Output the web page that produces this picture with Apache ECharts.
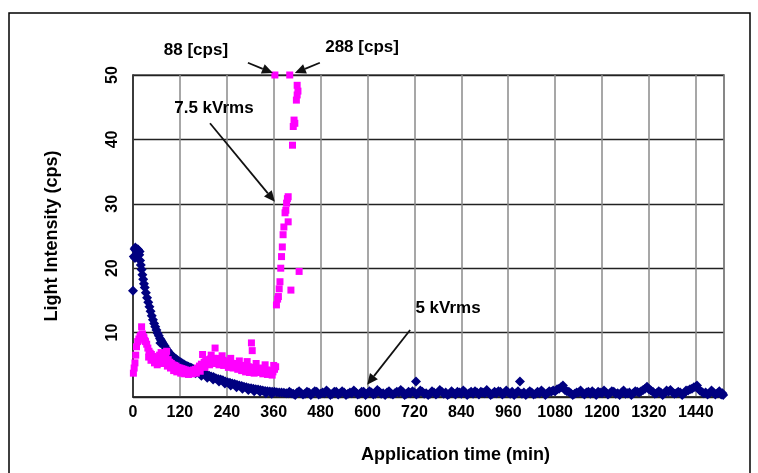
<!DOCTYPE html>
<html>
<head>
<meta charset="utf-8">
<script src="https://cdn.jsdelivr.net/npm/echarts@6/dist/echarts.min.js"></script>
<style>
  html, body { margin: 0; padding: 0; background: #fff; }
  #chart { width: 758px; height: 473px; }
</style>
</head>
<body>
<div id="chart"></div>
<script>
// tick labels
const xTicks = [0, 120, 240, 360, 480, 600, 720, 840, 960, 1080, 1200, 1320, 1440];
const yTicks = [10, 20, 30, 40, 50];

// 5 kVrms  [time (min), light intensity (cps)]
const blue5kV = [
  [0,16.5],[2,21.8],[4,23.0],[6,23.2],[8,22.7],[10,23.0],[12,22.4],[14,22.0],[16,22.1],[18,21.2],
  [5,21.6],[9,21.9],[13,22.9],[17,22.6],[20,20.5],[22,19.8],[24,19.0],[26,18.3],[28,17.6],[30,17.0],
  [33,16.2],[36,15.4],[39,14.7],[42,14.0],[45,13.3],[48,12.6],[51,12.0],[54,11.4],[57,10.9],[60,10.4],
  [63,9.9],[66,9.5],[69,9.1],[72,8.8],[75,8.5],[78,8.2],[81,7.9],[84,7.6],[87,7.3],[90,7.1],
  [94,6.8],[98,6.5],[102,6.3],[106,6.1],[110,5.9],[114,5.7],[118,5.5],[122,5.4],[126,5.2],[130,5.1],
  [134,4.9],[138,4.8],[142,4.7],[146,4.6],[150,4.5],[155,4.3],[160,4.2],[165,4.0],[170,3.9],[175,3.8],
  [180,3.7],[185,3.6],[190,3.4],[195,3.3],[200,3.2],[206,3.1],[212,2.9],[218,2.8],[224,2.7],[230,2.6],
  [236,2.4],[242,2.3],[248,2.2],[254,2.1],[260,2.0],[266,1.9],[272,1.8],[278,1.7],[284,1.6],[290,1.5],
  [296,1.4],[302,1.35],[308,1.3],[314,1.2],[320,1.15],[326,1.1],[332,1.0],[338,0.95],[344,0.9],[350,0.85],
  [356,0.8],[362,0.8],[368,0.75],[374,0.7],[380,0.7],[386,0.65],[392,0.6],[398,0.6],
  [70,8.4],[85,6.9],[100,5.9],[115,5.1],[130,4.5],[145,4.1],[160,3.7],[175,3.3],[190,3.0],[205,2.7],
  [220,2.4],[235,2.1],[250,1.8],[265,1.5],[280,1.3],[295,1.1],[310,0.9],[325,0.8],[340,0.6],[355,0.5],
  [405,0.6],[415,0.3],[425,0.9],[435,0.4],[445,0.8],[455,0.3],[465,0.9],[475,0.4],[485,0.7],[495,1.0],
  [505,0.3],[515,0.8],[525,0.4],[535,0.9],[545,0.3],[555,0.7],[565,1.0],[575,0.4],[585,0.8],[595,0.3],
  [605,0.9],[615,0.4],[625,1.1],[635,0.5],[645,0.3],[655,0.9],[665,0.4],[675,0.8],[685,1.1],[695,0.3],
  [705,0.8],[715,0.9],[724,2.4],[725,0.4],[735,1.0],[745,0.5],[755,0.3],[765,0.9],[775,0.4],[785,1.1],
  [795,0.5],[805,0.3],[815,0.9],[825,0.4],[835,0.7],[845,1.0],[855,0.3],[865,0.8],[875,0.9],[885,0.4],
  [895,0.7],[905,1.1],[915,0.3],[925,0.8],[935,0.9],[945,0.4],[955,1.0],[965,0.5],[975,0.3],[985,0.9],
  [990,2.4],[995,0.5],[1005,0.3],[1015,0.9],[1025,0.4],[1035,0.8],[1045,1.0],[1055,0.3],[1065,0.9],[1075,1.0],
  [1085,1.2],[1095,1.5],[1100,1.8],[1105,1.1],[1115,0.8],[1125,0.3],[1135,0.7],[1145,1.0],[1155,0.4],[1165,0.8],
  [1175,0.9],[1185,0.3],[1195,0.7],[1205,1.0],[1215,0.4],[1225,0.9],[1235,0.5],[1245,0.3],[1255,1.0],[1265,0.6],
  [1275,0.3],[1285,0.9],[1295,0.7],[1305,1.1],[1315,1.6],[1325,1.0],[1335,0.5],[1345,0.9],[1355,0.3],[1365,1.0],
  [1375,1.1],[1385,0.5],[1395,0.8],[1405,0.3],[1415,1.0],[1425,1.2],[1435,1.5],[1443,1.8],[1450,1.0],[1460,0.6],
  [1470,0.4],[1480,1.0],[1490,0.4],[1500,0.9],[1505,0.4],[1510,0.3]
];

// 5 kVrms, the in-between readings of the flat part
const blue5kVflat = [
  [400,0.8],[410,0.5],[420,0.7],[430,0.6],[440,0.5],[450,0.7],[460,0.6],[470,0.8],[480,0.5],[490,0.6],
  [500,0.7],[510,0.5],[520,0.8],[530,0.6],[540,0.7],[550,0.5],[560,0.6],[570,0.7],[580,0.5],[590,0.8],
  [600,0.6],[610,0.7],[620,0.5],[630,0.8],[640,0.6],[650,0.7],[660,0.5],[670,0.6],[680,0.7],[690,0.8],
  [700,0.5],[710,0.6],[720,0.7],[730,0.6],[740,0.8],[750,0.6],[760,0.5],[770,0.7],[780,0.6],[790,0.8],
  [800,0.7],[810,0.5],[820,0.6],[830,0.8],[840,0.5],[850,0.7],[860,0.6],[870,0.5],[880,0.7],[890,0.8],
  [900,0.6],[910,0.7],[920,0.5],[930,0.6],[940,0.8],[950,0.6],[960,0.7],[970,0.8],[980,0.6],[1000,0.7],
  [1010,0.6],[1020,0.7],[1030,0.5],[1040,0.6],[1050,0.7],[1060,0.6],[1070,0.8],[1080,0.9],[1090,1.3],[1110,0.9],
  [1120,0.6],[1130,0.5],[1140,0.7],[1150,0.6],[1160,0.7],[1170,0.5],[1180,0.6],[1190,0.8],[1200,0.6],[1210,0.7],
  [1220,0.6],[1230,0.8],[1240,0.6],[1250,0.7],[1260,0.5],[1270,0.7],[1280,0.6],[1290,0.8],[1300,0.9],[1310,1.3],
  [1320,1.2],[1330,0.8],[1340,0.6],[1350,0.7],[1360,0.6],[1370,0.8],[1380,0.7],[1390,0.6],[1400,0.7],[1410,0.6],
  [1420,1.0],[1430,1.3],[1440,1.6],[1455,0.8],[1465,0.7],[1475,0.6],[1485,0.7],[1495,0.6],[1508,0.6]
];

// 7.5 kVrms  (the two points at the top edge are 88 and 288 cps, drawn at 50)
const pink75kV = [
  [1,3.7],[3,4.5],[5,5.3],[7,6.5],[9,7.8],[12,8.6],[15,9.0],[18,9.4],[20,9.6],[22,10.9],
  [24,9.8],[26,9.4],[28,9.2],[30,8.8],[32,8.6],[35,8.2],[38,7.6],[41,7.1],[44,6.8],[47,6.6],
  [50,6.3],[53,6.1],[56,6.0],[60,5.9],[64,6.0],[68,6.5],[72,6.9],[76,6.4],[80,6.0],[84,6.2],
  [86,7.1],[90,5.8],[94,5.4],[98,5.2],[102,5.0],[106,4.9],[110,4.8],[115,4.6],[120,4.5],[125,4.4],
  [130,4.3],[135,4.2],[140,4.1],[145,4.0],[150,4.1],[155,4.2],[160,4.3],[165,4.5],[170,4.8],[175,5.1],
  [178,6.6],[182,5.4],[186,5.6],[190,5.7],[194,5.8],[198,5.9],[202,5.8],[206,6.0],[210,7.6],[214,6.0],
  [218,5.9],[222,5.8],[226,5.8],[230,5.7],[235,5.6],[240,5.5],[245,5.4],[250,5.3],[255,5.2],[260,5.2],
  [265,5.1],[270,5.0],[275,4.9],[280,4.9],[285,4.8],[290,4.7],[295,4.7],[300,4.6],[303,8.4],[305,7.2],
  [307,4.6],[312,4.5],[318,4.4],[324,4.5],[330,4.3],[336,4.3],[342,4.2],[348,4.1],[354,4.0],[358,3.9],
  [362,4.3],[365,4.7],
  [40,6.2],[46,5.7],[55,5.3],[62,5.0],[70,5.6],[78,5.2],[88,4.8],[96,4.5],[104,4.1],[112,3.9],
  [122,3.7],[132,3.6],[142,3.5],[152,3.6],[162,3.7],[172,4.0],[184,4.6],[196,5.0],[208,5.2],[220,5.0],
  [232,4.9],[244,4.6],[256,4.5],[268,4.3],[278,4.1],[288,3.9],[298,3.8],[310,3.7],[320,3.8],[332,3.6],
  [344,3.5],[356,3.4],[200,6.5],[228,6.4],[250,6.0],[272,5.6],[292,5.5],[315,5.2],[338,5.0],[360,4.9],
  [363,50],[367,14.3],[370,15.2],[372,15.6],[374,16.8],[376,17.9],[378,20.0],[380,21.8],
  [382,23.3],[384,25.2],[386,26.4],[389,28.6],[391,29.0],[393,30.1],[395,30.8],[397,31.1],[397,27.2],[401,50],
  [404,16.6],[408,39.1],[410,42.0],[412,43.0],[414,42.5],[418,46.1],[420,46.9],[422,47.5],[420,48.4],[425,19.5]
];

// annotations, in data units
const labels = [
  { text: '88 [cps]', at: [161, 53.9] },
  { text: '288 [cps]', at: [586, 54.3] },
  { text: '7.5 kVrms', at: [207, 44.9] },
  { text: '5 kVrms', at: [806, 13.8] }
];
const arrows = [
  [[294, 51.9], [358, 50.3]],
  [[478, 51.9], [414, 50.3]],
  [[197, 42.5], [363, 30.3]],
  [[709, 10.4], [599, 1.9]]
];

const font = 'Liberation Sans, Arial, sans-serif';
const chart = echarts.init(document.getElementById('chart'));

const option = {
  animation: false,
  grid: { left: 133, right: 34, top: 75, bottom: 76, show: true, borderColor: '#555', borderWidth: 1.5 },
  xAxis: {
    type: 'value', min: 0, max: 1512, interval: 120,
    name: 'Application time (min)', nameLocation: 'middle', nameGap: 49,
    nameTextStyle: { fontFamily: font, fontSize: 18, fontWeight: 'bold', color: '#000', padding: [0, 0, 0, 54] },
    axisLine: { lineStyle: { color: '#222', width: 1.5 } },
    axisTick: { show: false },
    axisLabel: {
      fontFamily: font, fontSize: 16, fontWeight: 'bold', color: '#000', margin: 8, showMaxLabel: false,
      formatter: v => xTicks.indexOf(v) >= 0 ? String(v) : ''
    },
    splitLine: { show: true, lineStyle: { color: '#8a8a8a', width: 1.5 } }
  },
  yAxis: {
    type: 'value', min: 0, max: 50, interval: 10,
    name: 'Light Intensity (cps)', nameLocation: 'middle', nameGap: 72, nameRotate: 90,
    nameTextStyle: { fontFamily: font, fontSize: 18, fontWeight: 'bold', color: '#000' },
    axisLine: { show: true, lineStyle: { color: '#222', width: 1.5 } },
    axisTick: { show: false },
    axisLabel: {
      fontFamily: font, fontSize: 16, fontWeight: 'bold', color: '#000', rotate: 90, margin: 12,
      formatter: v => yTicks.indexOf(v) >= 0 ? String(v) : ''
    },
    splitLine: { show: true, lineStyle: { color: '#222', width: 1.3 } }
  },
  series: [
    {
      name: '5 kVrms', type: 'scatter', data: blue5kV.concat(blue5kVflat), clip: false,
      symbol: 'diamond', symbolSize: 10,
      itemStyle: { color: '#000080', opacity: 1 }
    },
    {
      name: '7.5 kVrms', type: 'scatter', data: pink75kV, clip: false,
      symbol: 'rect', symbolSize: 7,
      itemStyle: { color: '#ff00ff', opacity: 1 }
    }
  ]
};
chart.setOption(option);

// arrows and texts placed through the chart's own scales
const g = [];
g.push({ type: 'rect', z: 100, shape: { x: 9, y: 13, width: 741, height: 470 },
  style: { fill: 'none', stroke: '#000', lineWidth: 1.5 } });
labels.forEach(l => {
  const p = chart.convertToPixel({ gridIndex: 0 }, l.at);
  g.push({ type: 'text', z: 100, x: p[0], y: p[1],
    style: { text: l.text, font: 'bold 17px ' + font, fill: '#000', align: 'center', verticalAlign: 'middle' } });
});
arrows.forEach(a => {
  const p0 = chart.convertToPixel({ gridIndex: 0 }, a[0]);
  const p1 = chart.convertToPixel({ gridIndex: 0 }, a[1]);
  const dx = p1[0] - p0[0], dy = p1[1] - p0[1];
  const len = Math.sqrt(dx * dx + dy * dy);
  const ux = dx / len, uy = dy / len;
  const hl = 11, hw = 5;
  const bx = p1[0] - ux * hl, by = p1[1] - uy * hl;
  g.push({ type: 'line', z: 100, shape: { x1: p0[0], y1: p0[1], x2: bx, y2: by },
    style: { stroke: '#111', lineWidth: 1.8 } });
  g.push({ type: 'polygon', z: 100,
    shape: { points: [[p1[0], p1[1]], [bx - uy * hw, by + ux * hw], [bx + uy * hw, by - ux * hw]] },
    style: { fill: '#111' } });
});
chart.setOption({ graphic: g });
</script>
</body>
</html>
